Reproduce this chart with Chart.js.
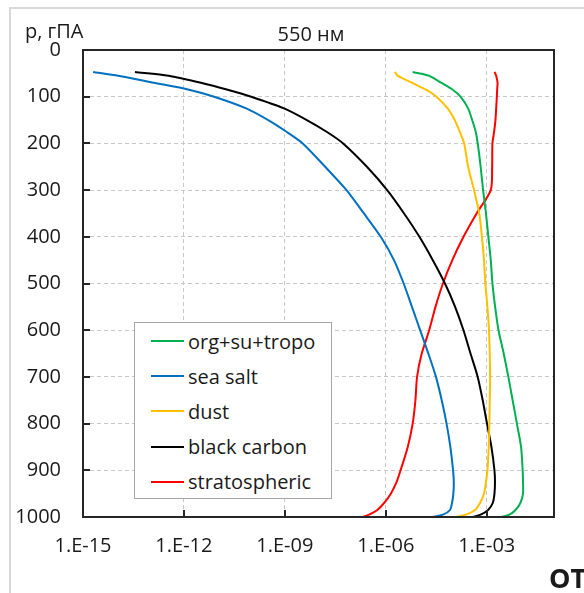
<!DOCTYPE html>
<html>
<head>
<meta charset="utf-8">
<script src="https://cdn.jsdelivr.net/npm/chart.js@4.4.1/dist/chart.umd.min.js"></script>
<style>
  body { margin: 0; background: #fff; }
  #wrap { position: relative; width: 584px; height: 593px; overflow: hidden; }
  #frame { position: absolute; left: 9px; top: 7px; width: 700px; height: 700px; border: 2px solid #d9d9d9; }
  #profile { position: absolute; left: 0; top: 0; }
  #legend { position: absolute; left: 134px; top: 322px; width: 196px; height: 175px; border: 1px solid #a6a6a6; background: #fff; font-family: 'Open Sans', sans-serif; font-size: 20px; color: #1a1a1a; }
  .row { position: absolute; left: 16px; height: 30px; display: flex; align-items: center; white-space: nowrap; }
  .swatch { width: 33px; height: 2px; margin-right: 4px; }
</style>
</head>
<body>
<div id="wrap">
  <div id="frame"></div>
  <canvas id="profile" width="584" height="593"></canvas>
  <div id="legend"></div>
</div>
<script>
// pressure levels, hPa
const pressure = [47, 55, 70, 85, 100, 125, 150, 175, 200, 250, 300, 350, 400, 450, 500, 550, 600, 650, 700, 750, 800, 850, 900, 925, 950, 970, 985, 995, 1000];

// optical thickness per layer at 550 nm
const orgSuTropo = [6.3e-6, 1.9e-5, 4.4e-5, 9.8e-5, 1.66e-4, 2.8e-4, 3.7e-4, 4.7e-4, 5.4e-4, 6.6e-4, 7.8e-4, 9.5e-4, 1.12e-3, 1.32e-3, 1.48e-3, 1.78e-3, 2.24e-3, 3.2e-3, 4.4e-3, 5.9e-3, 7.9e-3, 1.05e-2, 1.17e-2, 1.2e-2, 1.2e-2, 1.0e-2, 7.2e-3, 4.7e-3, 2.7e-3];
const seaSalt = [2.0e-15, 1.12e-14, 1.26e-13, 1.41e-12, 7.9e-12, 7.1e-11, 3.2e-10, 1.12e-9, 3.4e-9, 1.58e-8, 6.8e-8, 2.24e-7, 7.1e-7, 1.75e-6, 3.4e-6, 6.0e-6, 1.05e-5, 1.84e-5, 3.1e-5, 4.6e-5, 6.4e-5, 8.3e-5, 1.0e-4, 1.05e-4, 1.02e-4, 9.3e-5, 8.1e-5, 5.0e-5, 2.4e-5];
const dust = [1.86e-6, 2.24e-6, 5.9e-6, 1.58e-5, 3.2e-5, 6.9e-5, 1.12e-4, 1.58e-4, 2.14e-4, 2.8e-4, 4.2e-4, 6.0e-4, 7.2e-4, 8.3e-4, 9.1e-4, 1.05e-3, 1.17e-3, 1.23e-3, 1.26e-3, 1.23e-3, 1.2e-3, 1.15e-3, 1.05e-3, 9.5e-4, 8.3e-4, 6.3e-4, 4.5e-4, 2.4e-4, 1.2e-4];
const blackCarbon = [3.5e-14, 3.5e-13, 3.2e-12, 2.0e-11, 1.0e-10, 9.5e-10, 4.5e-9, 1.74e-8, 5.4e-8, 2.75e-7, 1.1e-6, 3.5e-6, 1.0e-5, 2.5e-5, 5.75e-5, 1.15e-4, 2.04e-4, 3.3e-4, 5.4e-4, 7.6e-4, 1.02e-3, 1.38e-3, 1.70e-3, 1.76e-3, 1.70e-3, 1.51e-3, 1.10e-3, 6.6e-4, 3.8e-4];
const stratospheric = [1.7e-3, 1.91e-3, 2.1e-3, 2.04e-3, 2.0e-3, 1.91e-3, 1.82e-3, 1.66e-3, 1.48e-3, 1.45e-3, 1.32e-3, 5.0e-4, 2.04e-4, 9.5e-5, 5.0e-5, 3.0e-5, 1.95e-5, 1.17e-5, 8.5e-6, 7.6e-6, 6.3e-6, 4.5e-6, 2.75e-6, 2.1e-6, 1.41e-6, 8.9e-7, 5.6e-7, 3.2e-7, 2.0e-7];

const seriesNames = ['org+su+tropo', 'sea salt', 'dust', 'black carbon', 'stratospheric'];
const seriesValues = [orgSuTropo, seaSalt, dust, blackCarbon, stratospheric];
const seriesColors = ['#00b050', '#0070c0', '#ffc000', '#000000', '#ff0000'];

const xTicks = [1e-15, 1e-12, 1e-9, 1e-6, 1e-3];
const xTickLabels = ['1.E-15', '1.E-12', '1.E-09', '1.E-06', '1.E-03'];

const chartTitle = '550 нм';
const yTitle = 'p, гПА';
const xTitle = 'ОТ';

const FONT = "'Open Sans', sans-serif";
const TEXT = '#1a1a1a';

// box, inward tick marks and free text
const decor = {
    id: 'decor',
    afterDraw(chart) {
        const { ctx, chartArea: a, scales } = chart;
        ctx.save();
        ctx.strokeStyle = '#262626';
        ctx.lineWidth = 2;
        ctx.strokeRect(a.left, a.top, a.right - a.left, a.bottom - a.top);
        ctx.beginPath();
        scales.y.ticks.forEach(t => {
            const y = Math.round(scales.y.getPixelForValue(t.value));
            ctx.moveTo(a.left, y);
            ctx.lineTo(a.left + 7, y);
        });
        scales.x.ticks.forEach(t => {
            const x = Math.round(scales.x.getPixelForValue(t.value));
            ctx.moveTo(x, a.bottom);
            ctx.lineTo(x, a.bottom - 7);
        });
        ctx.stroke();

        ctx.fillStyle = TEXT;
        ctx.textBaseline = 'alphabetic';
        ctx.font = '20px ' + FONT;
        ctx.textAlign = 'center';
        ctx.fillText(chartTitle, 311, 41);
        ctx.textAlign = 'left';
        ctx.fillText(yTitle, 25, 38);
        ctx.font = 'bold 27px ' + FONT;
        ctx.fillText(xTitle, 549, 588);
        ctx.restore();
    }
};

const datasets = seriesNames.map((name, i) => ({
    label: name,
    data: pressure.map((p, j) => ({ x: seriesValues[i][j], y: p })),
    borderColor: seriesColors[i],
    backgroundColor: seriesColors[i],
    borderWidth: 2,
    pointRadius: 0,
    showLine: true,
    tension: 0.25
}));

const gridStyle = { color: '#c8c8c8', lineWidth: 1, drawTicks: false };

new Chart(document.getElementById('profile'), {
    type: 'scatter',
    data: { datasets },
    options: {
        responsive: false,
        animation: false,
        devicePixelRatio: 1,
        layout: { padding: { top: 50, right: 30, left: 0, bottom: 0 } },
        plugins: { legend: { display: false }, tooltip: { enabled: false } },
        scales: {
            x: {
                type: 'logarithmic',
                min: 1e-15,
                max: 1e-1,
                grid: gridStyle,
                border: { display: false, dash: [4, 3] },
                afterBuildTicks: scale => { scale.ticks = xTicks.map(v => ({ value: v })); },
                afterFit: scale => { scale.height = 76; },
                ticks: {
                    autoSkip: false,
                    maxRotation: 0,
                    padding: 17,
                    color: TEXT,
                    font: { family: FONT, size: 20 },
                    callback: (v, i) => xTickLabels[i]
                }
            },
            y: {
                type: 'linear',
                reverse: true,
                min: 0,
                max: 1000,
                grid: gridStyle,
                border: { display: false, dash: [4, 3] },
                afterFit: scale => { scale.width = 83; },
                ticks: {
                    stepSize: 100,
                    padding: 22,
                    color: TEXT,
                    font: { family: FONT, size: 20 },
                    callback: v => String(v)
                }
            }
        }
    },
    plugins: [decor]
});

// legend box inside the plot
const legend = document.getElementById('legend');
seriesNames.forEach((name, i) => {
    const row = document.createElement('div');
    row.className = 'row';
    row.style.top = (3 + i * 35.2) + 'px';
    row.innerHTML = `<span class="swatch" style="background:${seriesColors[i]}"></span><span>${name}</span>`;
    legend.appendChild(row);
});
</script>
</body>
</html>
